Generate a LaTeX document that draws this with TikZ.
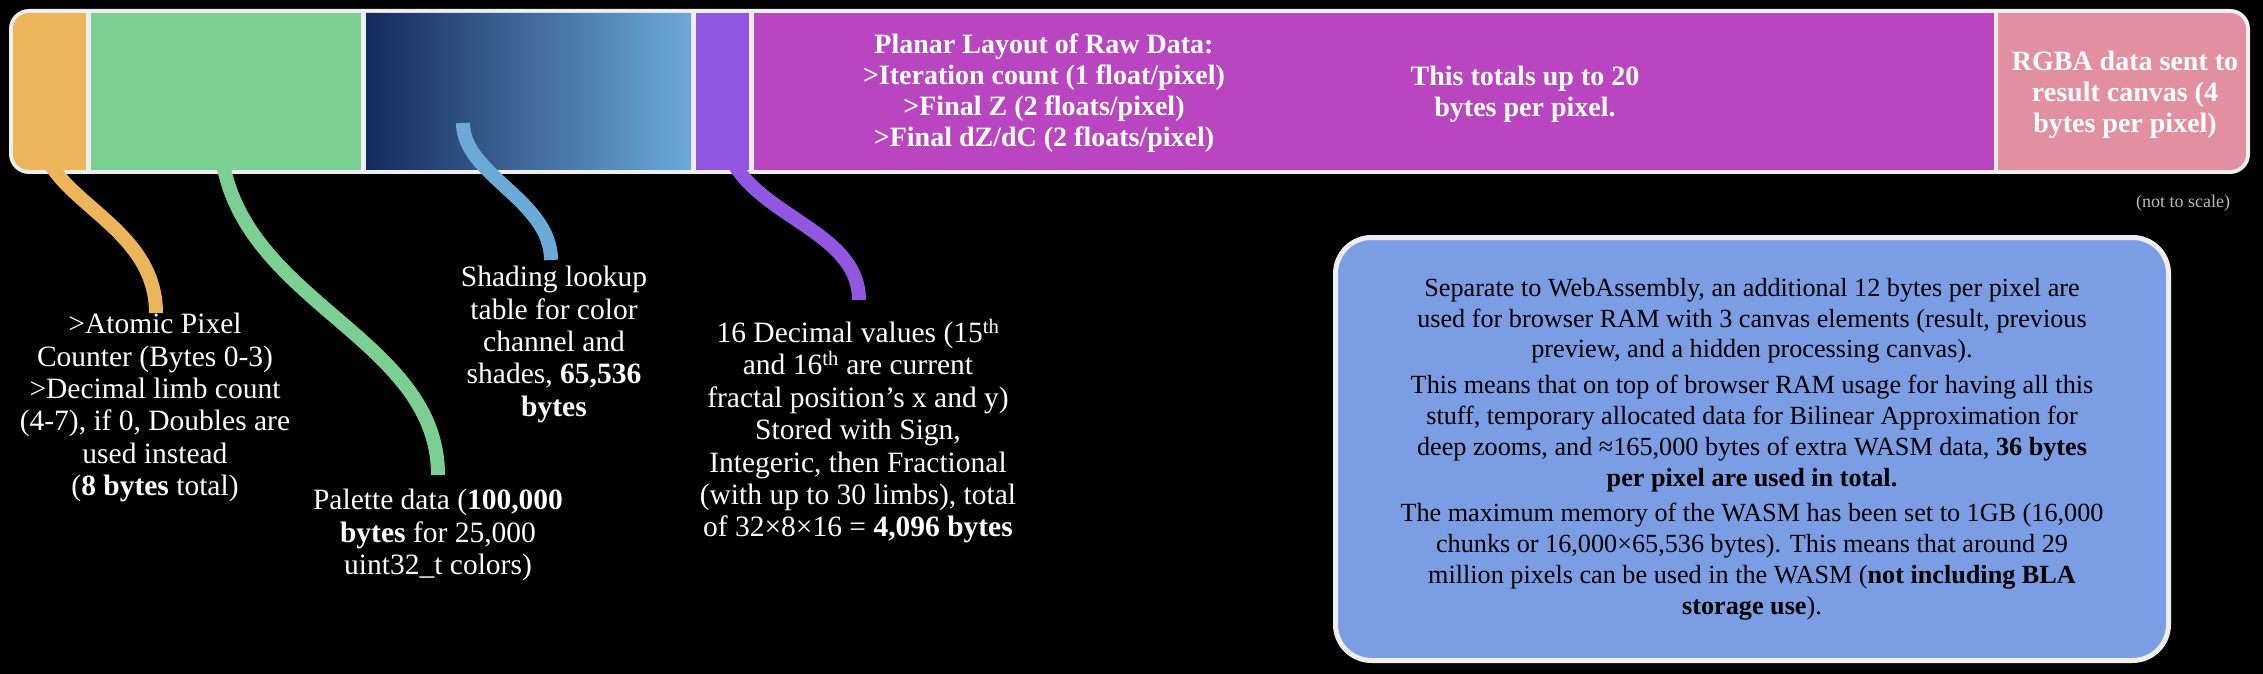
\documentclass[tikz,border=0pt]{standalone}
\usepackage{fontspec}
\setmainfont{Liberation Serif}
\definecolor{barwhite}{HTML}{EEEEEE}
\definecolor{corange}{HTML}{EDB55A}
\definecolor{cgreen}{HTML}{7CCF93}
\definecolor{cnavy}{HTML}{152A5C}
\definecolor{clblue}{HTML}{6BAAD7}
\definecolor{cpurple}{HTML}{9257E1}
\definecolor{cmagenta}{HTML}{B946C0}
\definecolor{cpink}{HTML}{E28FA1}
\definecolor{cbox}{HTML}{7A9DE3}
\definecolor{cgray}{HTML}{BBBBBB}
\begin{document}
\begin{tikzpicture}[x=1pt,y=-1pt,
  conn/.style={line width=14pt},
  lbl/.style={text=white,align=center,inner sep=0pt,font=\fontsize{29.5}{32.4}\selectfont},
  bartxt/.style={text=white,align=center,inner sep=0pt,font=\bfseries\fontsize{28}{31}\selectfont},
  boxtxt/.style={text=black,align=center,inner sep=0pt,font=\fontsize{26.2}{30.8}\selectfont}]
\fill[black] (0,0) rectangle (2263,674);
\useasboundingbox (0,0) rectangle (2263,674);
% memory bar
\fill[barwhite, rounded corners=20pt] (9,9) rectangle (2250,174);
\begin{scope}
\clip[rounded corners=16pt] (13,13) rectangle (2246,170);
\fill[corange] (13,13) rectangle (85.5,170);
\fill[cgreen] (90.5,13) rectangle (361,170);
\shade[left color=cnavy, right color=clblue] (366,13) rectangle (691,170);
\fill[cpurple] (695.5,13) rectangle (749,170);
\fill[cmagenta] (753.5,13) rectangle (1993.5,170);
\fill[cpink] (1998,13) rectangle (2246,170);
\end{scope}
% bar texts
\node[bartxt] (planar) at (1044,93) {Planar Layout of Raw Data:\\ >Iteration count (1 float/pixel)\\ >Final Z (2 floats/pixel)\\ >Final dZ/dC (2 floats/pixel)};
\node[bartxt] (totals) at (1525,94) {This totals up to 20\\ bytes per pixel.};
\node[bartxt] (rgba) at (2125,95) {RGBA data sent to\\ result canvas (4\\ bytes per pixel)};
\node[text=cgray, inner sep=0pt, font=\fontsize{18}{20}\selectfont] (scale) at (2183,203) {(not to scale)};
% labels
\node[lbl, anchor=north] (lorange) at (155,313) {>Atomic Pixel\\ Counter (Bytes 0-3)\\ >Decimal limb count\\ (4-7), if 0, Doubles are\\ used instead\\ (\textbf{8 bytes} total)};
\node[lbl, anchor=north] (lgreen) at (438,489) {Palette data (\textbf{100,000}\\ \textbf{bytes} for 25,000\\ uint32\_t colors)};
\node[lbl, anchor=north] (lblue) at (554,266) {Shading lookup\\ table for color\\ channel and\\ shades, \textbf{65,536}\\ \textbf{bytes}};
\node[lbl, anchor=north] (lpurple) at (858,319) {16 Decimal values (15\textsuperscript{th}\\ and 16\textsuperscript{th} are current\\ fractal position’s x and y)\\ Stored with Sign,\\ Integeric, then Fractional\\ (with up to 30 limbs), total\\ of 32×8×16 = \textbf{4,096 bytes}};
% connectors
\coordinate (sorange) at (40,130);
\coordinate (sgreen) at (220,130);
\coordinate (sblue) at (463,123);
\coordinate (spurple) at (722,120);
\coordinate (eorange) at (156,313);
\coordinate (egreen) at (438,475);
\coordinate (eblue) at (551,260);
\coordinate (epurple) at (859,300);
\draw[conn, corange] (sorange) .. controls +(0,70) and +(0,-92) .. (eorange);
\draw[conn, cgreen] (sgreen) .. controls +(0,170) and +(0,-145) .. (egreen);
\draw[conn, clblue] (sblue) .. controls +(0,52) and +(0,-60) .. (eblue);
\draw[conn, cpurple] (spurple) .. controls +(0,95) and +(0,-80) .. (epurple);
% info box
\draw[barwhite, line width=5pt, fill=cbox, rounded corners=36pt] (1335.5,237.5) rectangle (2168.5,660.5);
\node[boxtxt] (info) at (1752,449) {Separate to WebAssembly, an additional 12 bytes per pixel are\\ used for browser RAM with 3 canvas elements (result, previous\\ preview, and a hidden processing canvas).\\[5pt]
This means that on top of browser RAM usage for having all this\\ stuff, temporary allocated data for Bilinear Approximation for\\ deep zooms, and ≈165,000 bytes of extra WASM data, \textbf{36 bytes}\\ \textbf{per pixel are used in total.}\\[5pt]
The maximum memory of the WASM has been set to 1GB (16,000\\ chunks or 16,000×65,536 bytes). This means that around 29\\ million pixels can be used in the WASM (\textbf{not including BLA}\\ \textbf{storage use}).};
\end{tikzpicture}
\end{document}
